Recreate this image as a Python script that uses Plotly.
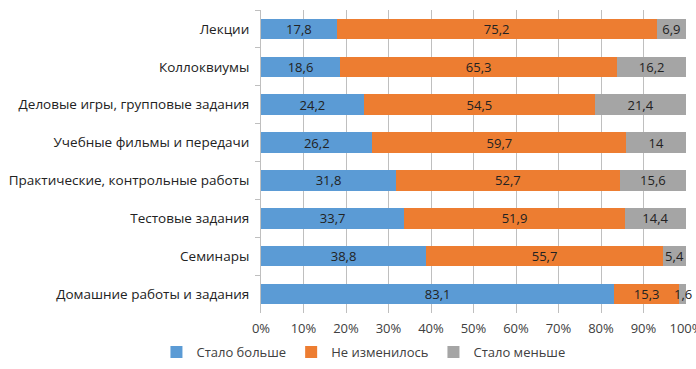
import plotly.graph_objects as go

categories = ["Лекции", "Коллоквиумы", "Деловые игры, групповые задания",
              "Учебные фильмы и передачи", "Практические, контрольные работы",
              "Тестовые задания", "Семинары", "Домашние работы и задания"]
more = [17.8, 18.6, 24.2, 26.2, 31.8, 33.7, 38.8, 83.1]
same = [75.2, 65.3, 54.5, 59.7, 52.7, 51.9, 55.7, 15.3]
less = [6.9, 16.2, 21.4, 14, 15.6, 14.4, 5.4, 1.6]
series_names = ["Стало больше", "Не изменилось", "Стало меньше"]
colors = ["#5B9BD5", "#ED7D31", "#A5A5A5"]
tick_vals = [0, 10, 20, 30, 40, 50, 60, 70, 80, 90, 100]
tick_text = [f"{v}%" for v in tick_vals]

def fmt(v):
    s = f"{v:g}"
    return s.replace(".", ",")

SMALL = 3.0  # segments too narrow for inside text get an annotation

fig = go.Figure()
all_series = [more, same, less]
for name, vals, col in zip(series_names, all_series, colors):
    fig.add_trace(go.Bar(
        y=categories, x=vals, name=name, orientation="h",
        marker=dict(color=col, line=dict(width=0)),
        text=[fmt(v) if v >= SMALL else "" for v in vals], texttemplate="%{text}",
        textposition="inside", insidetextanchor="middle", textangle=0,
        constraintext="none",
        textfont=dict(family="Open Sans, sans-serif", size=13, color="#222222"),
        cliponaxis=False, hoverinfo="skip",
    ))

# labels for very narrow segments, placed at the segment centre (normalised to 100%)
for i, cat in enumerate(categories):
    total = more[i] + same[i] + less[i]
    start = 0.0
    for vals in all_series:
        v = vals[i]
        if v < SMALL:
            fig.add_annotation(x=(start + v / 2) / total * 100, y=cat, text=fmt(v),
                               showarrow=False, xanchor="center", yanchor="middle",
                               font=dict(family="Open Sans, sans-serif", size=13,
                                         color="#222222"))
        start += v

fig.update_layout(
    barmode="stack", barnorm="percent", bargap=0.46,
    width=696, height=369,
    margin=dict(l=261, r=10, t=10, b=56, autoexpand=False),
    plot_bgcolor="white", paper_bgcolor="white",
    font=dict(family="Open Sans, sans-serif", size=13, color="#404040"),
    uniformtext=dict(minsize=13, mode="show"),
    legend=dict(orientation="h", xref="paper", yref="paper",
                x=-0.246, y=-0.129, xanchor="left", yanchor="middle",
                traceorder="normal",
                font=dict(size=13, color="#404040")),
)
fig.update_xaxes(range=[0, 100], tickvals=tick_vals, ticktext=tick_text,
                 showgrid=True, gridcolor="#BFBFBF", gridwidth=1,
                 zeroline=False, showline=False, ticks="",
                 ticklabeloverflow="allow", ticklabelstandoff=6,
                 automargin=False,
                 tickfont=dict(size=13, color="#404040"))
fig.update_yaxes(autorange="reversed", showline=True, linecolor="#BFBFBF",
                 ticks="outside", tickson="boundaries", ticklen=5,
                 tickcolor="#BFBFBF", showgrid=False, ticklabelstandoff=8,
                 automargin=False,
                 tickfont=dict(size=13.5, color="#222222"))

fig.write_html("out.html", config={"displayModeBar": False},
               post_script="document.body.style.margin='0';")
